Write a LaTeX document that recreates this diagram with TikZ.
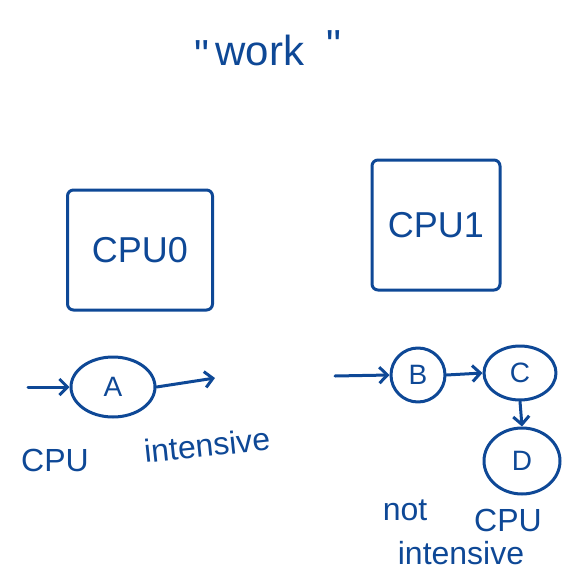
\documentclass[tikz,border=0pt]{standalone}
\usepackage{fontspec}
\setmainfont{Liberation Sans}
\usetikzlibrary{shapes.geometric,arrows.meta}
\definecolor{ink}{RGB}{14,72,150}
\tikzset{
  cpu/.style={draw, rounded corners=6pt, inner sep=0pt, font=\fontsize{36}{40}\selectfont},
  task/.style={draw, ellipse, inner sep=0pt, font=\fontsize{28}{32}\selectfont},
  flow/.style={-{Straight Barb[length=8pt,width=16pt]}},
  hand/.style={font=\fontsize{32}{36}\selectfont}
}
\begin{document}
\begin{tikzpicture}[x=1pt, y=-1pt, color=ink, line width=3pt, line cap=round, line join=round]
\useasboundingbox (0,0) rectangle (568,578);
\node (work) [hand, font=\fontsize{42}{46}\selectfont] at (268,50)
  {\raisebox{-4pt}{\textquotedbl}\hspace{6pt}work\hspace{22pt}\raisebox{6pt}{\textquotedbl}};
% the two processors
\node (cpu0) [cpu, minimum width=145, minimum height=120] at (140,250) {CPU0};
\node (cpu1) [cpu, minimum width=128, minimum height=130] at (436,225) {CPU1};
% one long task
\node (A) [task, minimum width=84, minimum height=60] at (113,387) {A};
\coordinate (inA) at (28,387);
\coordinate (outA) at (215,378);
\draw [flow] (inA) -- (A.west);
\draw [flow] (A.east) -- (outA);
\node (lblcpu) [hand] at (55,460) {CPU};
\node (lblint) [hand, rotate=6] at (207,445) {intensive};
% chain of short tasks
\node (B) [task, minimum width=54, minimum height=54] at (418,375) {B};
\node (C) [task, minimum width=72, minimum height=54] at (520,373) {C};
\node (D) [task, minimum width=76, minimum height=66] at (522,461) {D};
\coordinate (inB) at (335,376);
\draw [flow] (inB) -- (B.west);
\draw [flow] (B.east) -- (C.west);
\draw [flow] (C.south) -- (D.north);
\node (lblnot) [hand] at (405,510) {not};
\node (lblcpu2) [hand] at (508,520) {CPU};
\node (lblint2) [hand] at (461,553) {intensive};
\end{tikzpicture}
\end{document}
